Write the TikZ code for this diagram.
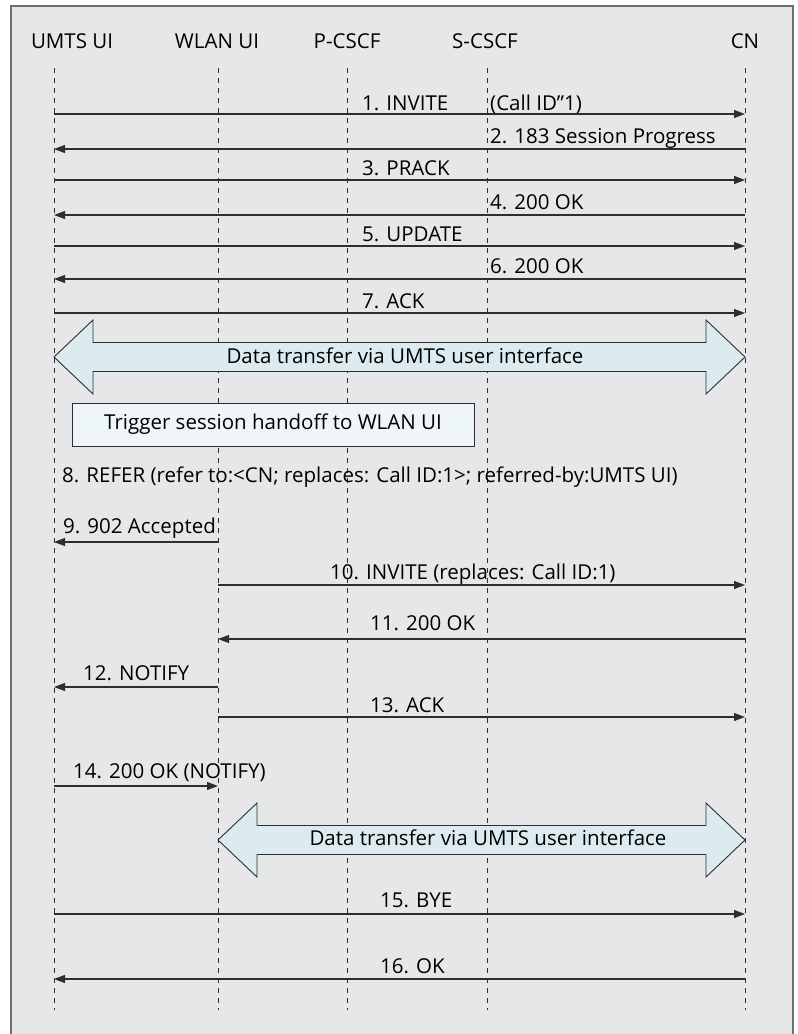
\documentclass[tikz,border=0pt]{standalone}
\usepackage{fontspec}
\setmainfont{Open Sans}
\usepackage{xcolor}
\usepackage{tikz}
\usetikzlibrary{arrows.meta}
\definecolor{cinzaFundo}{HTML}{E6E7E9}
\definecolor{cinzaBorda}{HTML}{6D6E71}
\definecolor{cinzaLinha}{HTML}{2E2E30}
\definecolor{azulSeta}{HTML}{DCEBEF}
\definecolor{azulCaixa}{HTML}{EEF6F8}
\newcommand{\corFundo}{cinzaFundo}
\newcommand{\corBorda}{cinzaBorda}
\newcommand{\corLinha}{cinzaLinha}
\newcommand{\corSeta}{azulSeta}
\newcommand{\corCaixa}{azulCaixa}
% seta dupla larga: x esquerdo, x direito, y do eixo, cabeca
\newcommand{\setaDupla}[4]{%
  \filldraw[fill=\corSeta, draw=\corLinha, line width=0.9pt]
    (#1,#3) -- (#1+#4,#3-37) -- (#1+#4,#3-14.5) -- (#2-#4,#3-14.5)
    -- (#2-#4,#3-37) -- (#2,#3) -- (#2-#4,#3+37) -- (#2-#4,#3+14.5)
    -- (#1+#4,#3+14.5) -- (#1+#4,#3+37) -- cycle;}

\begin{document}
\begin{tikzpicture}[x=1pt, y=-1pt, font=\fontsize{20.5}{24}\selectfont,
    vida/.style={draw=\corLinha, line width=0.9pt, dash pattern=on 5pt off 5pt},
    msg/.style={draw=\corLinha, line width=1.1pt},
    ida/.style={msg, -{Triangle[length=11pt, width=8pt]}},
    rot/.style={anchor=base west, inner sep=0pt},
    cab/.style={anchor=base, inner sep=0pt}]

    \useasboundingbox (0,0) rectangle (798,1034);

      % moldura
    \filldraw[fill=\corFundo, draw=\corBorda, line width=1.2pt] (11,1045) -- (11,6) -- (793,6) -- (793,1045);

      % cabecalhos
    \node[cab] (umts) at (72,48) {UMTS UI};
    \node[cab] (wlan) at (217,48) {WLAN UI};
    \node[cab] (pcscf) at (347,48) {P-CSCF};
    \node[cab] (scscf) at (485,48) {S-CSCF};
    \node[cab] (cn) at (745,48) {CN};

      % linhas de vida
    \coordinate (lu) at (54,68);
    \coordinate (lw) at (218,68);
    \coordinate (lp) at (347,68);
    \coordinate (ls) at (487,68);
    \coordinate (lc) at (745,68);
    \foreach \l in {lu,lw,lp,ls,lc}
        \draw[vida] (\l) -- (\l |- 0,1010);

      % mensagem 1
    \draw[ida] (lu |- 0,114) -- (lc |- 0,114);
    \node[rot] (m1) at (362,110) {1. INVITE};
    \node[rot] (m1b) at (490,110) {(Call ID”1)};

      % mensagem 2
    \draw[ida] (lc |- 0,149) -- (lu |- 0,149);
    \node[rot] (m2) at (490,143) {2. 183 Session Progress};

      % mensagem 3
    \draw[ida] (lu |- 0,180) -- (lc |- 0,180);
    \node[rot] (m3) at (362,175) {3. PRACK};

      % mensagem 4
    \draw[ida] (lc |- 0,215) -- (lu |- 0,215);
    \node[rot] (m4) at (490,209) {4. 200 OK};

      % mensagem 5
    \draw[ida] (lu |- 0,246) -- (lc |- 0,246);
    \node[rot] (m5) at (362,241) {5. UPDATE};

      % mensagem 6
    \draw[ida] (lc |- 0,279) -- (lu |- 0,279);
    \node[rot] (m6) at (490,273) {6. 200 OK};

      % mensagem 7
    \draw[ida] (lu |- 0,313) -- (lc |- 0,313);
    \node[rot] (m7) at (362,308) {7. ACK};

      % dados via UMTS
    \setaDupla{54}{745}{357}{39}
    \node[cab] (dados1) at (405,363) {Data transfer via UMTS user interface};

      % gatilho
    \node[draw=\corLinha, fill=\corCaixa, line width=0.9pt, minimum width=402pt,
          minimum height=43pt, inner sep=0pt] (gatilho) at (273,424.5)
          {Trigger session handoff to WLAN UI};

      % mensagem 8
    \node[rot] (m8) at (62,482) {8. REFER (refer to:<CN; replaces: Call ID:1>; referred-by:UMTS UI)};

      % mensagem 9
    \draw[ida] (lw |- 0,542) -- (lu |- 0,542);
    \node[rot] (m9) at (63,533) {9. 902 Accepted};

      % mensagem 10
    \draw[ida] (lw |- 0,585) -- (lc |- 0,585);
    \node[rot] (m10) at (330,579) {10. INVITE (replaces: Call ID:1)};

      % mensagem 11
    \draw[ida] (lc |- 0,639) -- (lw |- 0,639);
    \node[rot] (m11) at (370,630) {11. 200 OK};

      % mensagem 12
    \draw[ida] (lw |- 0,687) -- (lu |- 0,687);
    \node[rot] (m12) at (83,680) {12. NOTIFY};

      % mensagem 13
    \draw[ida] (lw |- 0,717) -- (lc |- 0,717);
    \node[rot] (m13) at (370,712) {13. ACK};

      % mensagem 14
    \draw[ida] (lu |- 0,786) -- (lw |- 0,786);
    \node[rot] (m14) at (73,778) {14. 200 OK (NOTIFY)};

      % dados apos handoff
    \setaDupla{218}{745}{840}{39}
    \node[cab] (dados2) at (488,845) {Data transfer via UMTS user interface};

      % mensagem 15
    \draw[ida] (lu |- 0,914) -- (lc |- 0,914);
    \node[rot] (m15) at (380,907) {15. BYE};

      % mensagem 16
    \draw[ida] (lc |- 0,979) -- (lu |- 0,979);
    \node[rot] (m16) at (380,973) {16. OK};
\end{tikzpicture}
\end{document}
